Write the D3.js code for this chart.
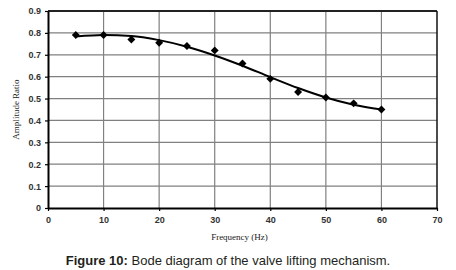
<!DOCTYPE html>
<html>
<head>
<meta charset="utf-8">
<script src="https://cdn.jsdelivr.net/npm/d3@7"></script>
<style>
  body { margin: 0; background: #fff; }
  svg { display: block; }
</style>
</head>
<body>
<svg id="chart"></svg>
<script>
// Measured points (frequency in Hz, amplitude ratio)
const freqs = [5, 10, 15, 20, 25, 30, 35, 40, 45, 50, 55, 60];
const ratios = [0.79, 0.79, 0.77, 0.755, 0.74, 0.72, 0.66, 0.59, 0.53, 0.505, 0.478, 0.45];

// Trend line
const trendFreqs = [5, 10, 15, 20, 25, 30, 35, 40, 45, 50, 55, 60];
const trendRatios = [0.783, 0.79, 0.786, 0.767, 0.737, 0.697, 0.65, 0.598, 0.548, 0.505, 0.472, 0.45];

const xTicks = [0, 10, 20, 30, 40, 50, 60, 70];
const yTicks = [0, 0.1, 0.2, 0.3, 0.4, 0.5, 0.6, 0.7, 0.8, 0.9];

const width = 456, height = 270;
const margin = { top: 11, right: 19, bottom: 62, left: 48 };
const plotW = width - margin.left - margin.right;
const plotH = height - margin.top - margin.bottom;

const svg = d3.select("#chart").attr("width", width).attr("height", height);

const x = d3.scaleLinear().domain([0, 70]).range([0, plotW]);
const y = d3.scaleLinear().domain([0, 0.9]).range([plotH, 0]);

const g = svg.append("g").attr("transform", "translate(" + margin.left + "," + margin.top + ")");

// Gridlines
g.append("g")
    .selectAll("line")
    .data(yTicks.slice(1, -1))
    .enter()
    .append("line")
    .attr("x1", 0)
    .attr("x2", plotW)
    .attr("y1", (d) => y(d))
    .attr("y2", (d) => y(d))
    .attr("stroke", "#808080")
    .attr("stroke-width", 1.2);

g.append("g")
    .selectAll("line")
    .data(xTicks.slice(1, -1))
    .enter()
    .append("line")
    .attr("x1", (d) => x(d))
    .attr("x2", (d) => x(d))
    .attr("y1", 0)
    .attr("y2", plotH)
    .attr("stroke", "#808080")
    .attr("stroke-width", 1.2);

// Frame: top and right
g.append("line").attr("x1", 0).attr("x2", plotW).attr("y1", 0).attr("y2", 0)
    .attr("stroke", "#222").attr("stroke-width", 2);
g.append("line").attr("x1", plotW).attr("x2", plotW).attr("y1", 0).attr("y2", plotH)
    .attr("stroke", "#111").attr("stroke-width", 1.5);

// Axes
const xAxis = g.append("g")
    .attr("transform", "translate(0," + plotH + ")")
    .call(d3.axisBottom(x).tickValues(xTicks).tickSize(3).tickSizeOuter(0).tickFormat(d3.format("d")));
const yAxis = g.append("g")
    .call(d3.axisLeft(y).tickValues(yTicks).tickSize(3).tickSizeOuter(0).tickFormat((d) => (d === 0 ? "0" : d3.format(".1f")(d))));

[xAxis, yAxis].forEach((a) => {
    a.select(".domain").attr("stroke", "#000").attr("stroke-width", 2);
    a.selectAll(".tick line").attr("stroke", "#000").attr("stroke-width", 1.2);
    a.selectAll("text")
        .attr("font-family", "Arial, 'Liberation Sans', sans-serif")
        .attr("font-size", "9px")
        .attr("font-weight", "bold")
        .attr("fill", "#333");
});
xAxis.selectAll("text").attr("dy", "0.95em");
yAxis.selectAll("text").attr("dx", "-1px");

// Trend line
const line = d3.line()
    .x((d) => x(d[0]))
    .y((d) => y(d[1]))
    .curve(d3.curveMonotoneX);
g.append("path")
    .datum(trendFreqs.map((f, i) => [f, trendRatios[i]]))
    .attr("d", line)
    .attr("fill", "none")
    .attr("stroke", "#000")
    .attr("stroke-width", 2);

// Diamond markers
const diamond = d3.symbol().type(d3.symbolDiamond2).size(40);
g.append("g")
    .selectAll("path")
    .data(freqs.map((f, i) => [f, ratios[i]]))
    .enter()
    .append("path")
    .attr("d", diamond)
    .attr("transform", (d) => "translate(" + x(d[0]) + "," + y(d[1]) + ")")
    .attr("fill", "#000");

// Axis titles
svg.append("text")
    .attr("x", margin.left + plotW / 2 - 3)
    .attr("y", 240)
    .attr("text-anchor", "middle")
    .attr("font-family", "'Times New Roman', 'Liberation Serif', serif")
    .attr("font-size", "9px")
    .attr("fill", "#222")
    .text("Frequency (Hz)");

svg.append("text")
    .attr("transform", "translate(19," + (margin.top + plotH / 2) + ") rotate(-90)")
    .attr("text-anchor", "middle")
    .attr("font-family", "'Times New Roman', 'Liberation Serif', serif")
    .attr("font-size", "9px")
    .attr("fill", "#222")
    .text("Amplitude Ratio");

// Caption
const caption = svg.append("text")
    .attr("x", 228)
    .attr("y", 265)
    .attr("text-anchor", "middle")
    .attr("font-family", "Arial, 'Liberation Sans', sans-serif")
    .attr("font-size", "13px")
    .attr("fill", "#231f20");
caption.append("tspan").attr("font-weight", "bold").text("Figure 10:");
caption.append("tspan").text(" Bode diagram of the valve lifting mechanism.");
</script>
</body>
</html>
